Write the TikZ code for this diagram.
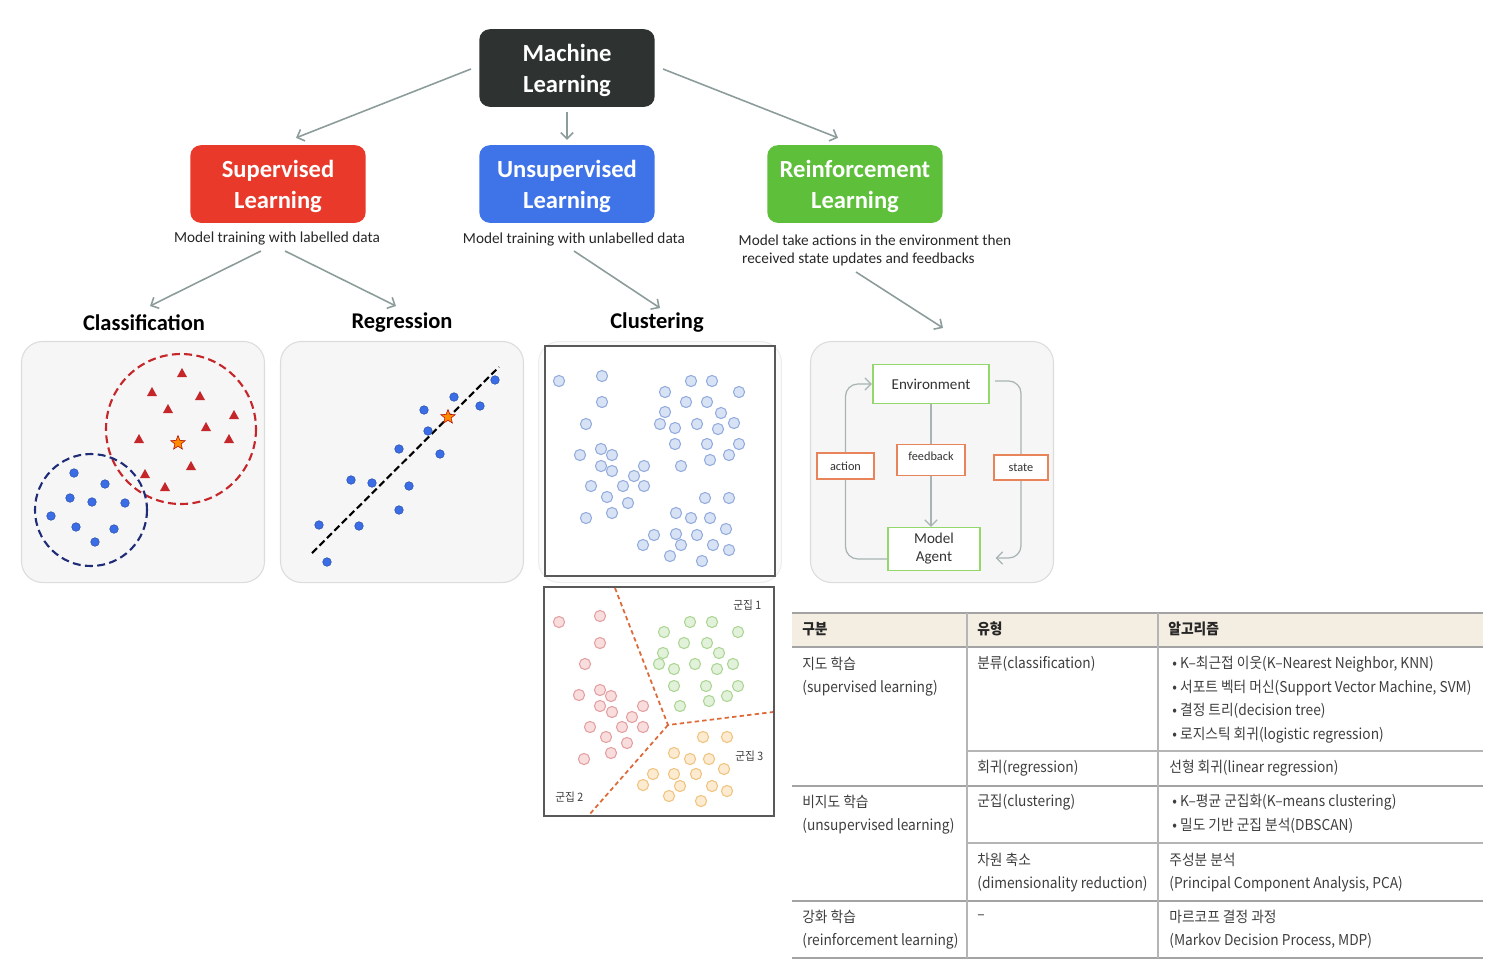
\documentclass[tikz,border=0pt]{standalone}
\usepackage{fontspec}
\setmainfont{Carlito}
\newfontfamily\krfont[FakeStretch=0.92]{Noto Sans CJK KR}
\usetikzlibrary{arrows.meta,shapes.geometric,positioning}

\definecolor{mlgray}{HTML}{2E3332}
\definecolor{supred}{HTML}{E8392A}
\definecolor{unsblue}{HTML}{3F74E9}
\definecolor{rlgreen}{HTML}{5DBF3A}
\definecolor{arrgray}{HTML}{8C9C9B}
\definecolor{panelfill}{HTML}{F6F6F6}
\definecolor{paneledge}{HTML}{DCDCDC}
\definecolor{dotblue}{HTML}{3A6DE6}
\definecolor{trired}{HTML}{C4262A}
\definecolor{ringblue}{HTML}{1F2C78}
\definecolor{clfill}{HTML}{D7E3F5}
\definecolor{cledge}{HTML}{93ABDD}
\definecolor{pkfill}{HTML}{F9DCDC}
\definecolor{pkedge}{HTML}{E3A0A2}
\definecolor{grfill}{HTML}{E2F1DA}
\definecolor{gredge}{HTML}{ABD592}
\definecolor{orfill}{HTML}{FCEBD1}
\definecolor{oredge}{HTML}{F0C37E}
\definecolor{cutline}{HTML}{DE6A3A}
\definecolor{envgreen}{HTML}{94D86C}
\definecolor{boxorange}{HTML}{E8835A}
\definecolor{rlgray}{HTML}{A8B3B3}
\definecolor{headfill}{HTML}{F4EDE2}
\definecolor{tabline}{HTML}{A3A3A3}
\definecolor{tabtext}{HTML}{3E3E3E}

\tikzset{
  >={Straight Barb[length=3.5pt,width=7pt]},
  kindbox/.style={rounded corners=6pt, text=white, align=center,
    minimum width=99.8pt, minimum height=44.2pt, text depth=0pt,
    font=\bfseries\fontsize{14}{17.8}\selectfont},
  capt/.style={font=\fontsize{8.7}{10.2}\selectfont, text=black!85},
  headtxt/.style={font=\bfseries\fontsize{12.8}{14}\selectfont},
  link/.style={arrgray, line width=0.9pt, ->},
  panel/.style={draw=paneledge, fill=panelfill, rounded corners=12pt,
    minimum width=138.3pt, minimum height=137.2pt, line width=0.6pt},
  rlline/.style={rlgray, line width=0.7pt},
  rlbox/.style={draw=envgreen, fill=white, line width=0.9pt, align=center,
    font=\fontsize{8.6}{10.2}\selectfont, text=black!80},
  tagbox/.style={draw=boxorange, fill=white, line width=0.9pt,
    font=\fontsize{7}{8}\selectfont, text=black!80},
  starmark/.style={star, star points=5, star point ratio=2.3, fill=orange!90!yellow,
    draw=red!70!black, line width=0.3pt, minimum size=8.5pt, inner sep=0pt},
  cell/.style={anchor=west, inner sep=0pt, text=tabtext,
    font=\krfont\fontsize{8.5}{10}\selectfont},
  cellhead/.style={cell, font=\krfont\bfseries\fontsize{8.5}{10}\selectfont, text=black!85},
}

\begin{document}
\begin{tikzpicture}[x=0.02cm, y=-0.02cm]
\useasboundingbox (0,0) rectangle (1492,968);

% top of the tree
\node[kindbox, fill=mlgray] (ml) at (567,68) {Machine\\Learning};
\node[kindbox, fill=supred] (sup) at (278,184) {Supervised\\Learning};
\node[kindbox, fill=unsblue] (uns) at (567,184) {Unsupervised\\Learning};
\node[kindbox, fill=rlgreen] (rl) at (855,184) {Reinforcement\\Learning};

\node[capt] (capsup) at (277,238) {Model training with labelled data};
\node[capt] (capuns) at (574,239) {Model training with unlabelled data};
\node[capt, align=left] (caprl) at (875,250) {Model take actions in the environment then\\\hspace{2pt}received state updates and feedbacks};

\node[headtxt] (cls) at (144,323) {Classification};
\node[headtxt] (reg) at (402,323) {Regression};
\node[headtxt] (clu) at (657,323) {Clustering};

% panels
\node[panel] (clspanel) at (143,462) {};
\node[panel] (regpanel) at (402,462) {};
\node[panel, fill=white!60!panelfill, draw=paneledge!50] (clupanel) at (660,462) {};
\node[panel] (rlpanel) at (932,462) {};

% arrows
\draw[link] ([shift={(-8,1)}]ml.west) -- ([shift={(18,-7)}]sup.north);
\draw[link] ([shift={(0,5)}]ml.south) -- ([shift={(0,-5)}]uns.north);
\draw[link] ([shift={(8,1)}]ml.east) -- ([shift={(-17,-7)}]rl.north);
\draw[link] ([shift={(-16,13)}]capsup.center) -- ([shift={(6,-17)}]cls.center);
\draw[link] ([shift={(8,13)}]capsup.center) -- ([shift={(-6,-17)}]reg.center);
\draw[link] ([shift={(0,12)}]capuns.center) -- ([shift={(3,-15)}]clu.center);
\draw[link] ([shift={(-19,22)}]caprl.center) -- ([shift={(11,-13)}]rlpanel.north);

% classification
\draw[trired, dashed, dash pattern=on 4.5pt off 2.5pt, line width=1.2pt] (181,429) circle [radius=75];
\draw[ringblue, dashed, dash pattern=on 4.5pt off 2.5pt, line width=1.2pt] (91,510) circle [radius=56];
\foreach \x/\y in {182/373,152/392,200/396,168/409,234/415,206/427,139/439,229/439,191/466,145/474,165/487}
  \fill[trired] (\x,\y-5) -- (\x+5,\y+4) -- (\x-5,\y+4) -- cycle;
\foreach \x/\y in {74/473,105/484,70/498,92/502,125/503,51/516,76/527,114/529,95/542}
  \filldraw[fill=dotblue, draw=dotblue!75!black, line width=0.3pt] (\x,\y) circle [radius=4.3];
\node[starmark] (clsstar) at (178,443) {};

% regression
\draw[black, dashed, dash pattern=on 4pt off 2pt, line width=1.2pt] (312,553) -- (499,367);
\foreach \x/\y in {495/380,454/397,480/406,424/410,428/431,399/449,440/454,351/480,372/483,409/486,399/510,319/525,359/526,327/562}
  \filldraw[fill=dotblue, draw=dotblue!75!black, line width=0.3pt] (\x,\y) circle [radius=4.3];
\node[starmark] (regstar) at (448,417) {};

% clustering, raw data
\filldraw[fill=white, draw=black!65, line width=0.8pt] (545,346) rectangle (775,576);
\foreach \x/\y in {559/381,602/376,602/402,586/424,580/455,601/449,612/455,601/466,612/471,644/466,634/476,591/486,623/486,644/486,607/497,628/503,586/518,612/513,
  665/392,691/381,712/381,739/392,686/402,707/402,665/412,721/413,660/424,675/428,697/424,718/429,734/423,675/444,707/444,739/444,729/455,681/466,710/460,
  705/498,729/498,676/513,691/518,710/518,726/529,654/535,676/534,697/535,643/545,681/545,713/545,729/550,670/556,702/561}
  \filldraw[fill=clfill, draw=cledge, line width=0.6pt] (\x,\y) circle [radius=5.6];

% clustering, result
\filldraw[fill=white, draw=black!65, line width=0.8pt] (544,587) rectangle (774,816);
\foreach \x/\y in {559/622,600/616,600/643,585/664,579/695,600/690,611/696,600/706,612/712,643/706,632/717,590/727,622/727,643/727,606/737,627/743,584/759,611/753}
  \filldraw[fill=pkfill, draw=pkedge, line width=0.6pt] (\x,\y) circle [radius=5.6];
\foreach \x/\y in {664/632,690/622,712/622,738/632,684/643,707/643,663/653,719/653,659/664,674/669,695/664,717/669,733/664,674/686,706/686,738/686,727/696,680/706,709/701}
  \filldraw[fill=grfill, draw=gredge, line width=0.6pt] (\x,\y) circle [radius=5.6];
\foreach \x/\y in {703/737,727/737,674/753,690/759,709/759,724/769,653/774,674/774,696/774,643/785,680/786,712/786,727/791,669/796,701/801}
  \filldraw[fill=orfill, draw=oredge, line width=0.6pt] (\x,\y) circle [radius=5.6];
\draw[cutline, dashed, dash pattern=on 2.5pt off 1.8pt, line width=1pt] (615,588) -- (668,725) -- (773,712);
\draw[cutline, dashed, dash pattern=on 2.5pt off 1.8pt, line width=1pt] (668,725) -- (589,815);
\node[cell, font=\krfont\fontsize{6.6}{8}\selectfont] (grp1) at (733,605) {군집 1};
\node[cell, font=\krfont\fontsize{6.6}{8}\selectfont] (grp3) at (735,756) {군집 3};
\node[cell, font=\krfont\fontsize{6.6}{8}\selectfont] (grp2) at (555,797) {군집 2};

% reinforcement loop
\node[rlbox, minimum width=66.3pt, minimum height=22.1pt] (env) at (931,384) {Environment};
\node[rlbox, minimum width=52.2pt, minimum height=24.4pt] (agent) at (934,549) {Model\\Agent};
\node[tagbox, minimum width=32.3pt, minimum height=14.7pt] (action) at (845.5,466) {action};
\node[tagbox, minimum width=38.5pt, minimum height=17.8pt, text depth=4pt] (feedback) at (931,460) {feedback};
\node[tagbox, minimum width=30.8pt, minimum height=14.2pt] (state) at (1021,467.5) {state};
\draw[rlline] (env.south) -- (feedback.north);
\draw[rlline, ->] (feedback.south) -- (feedback.south |- agent.north);
\draw[rlline, rounded corners=7pt] ([shift={(0,10)}]agent.west) -| (action.south);
\draw[rlline, ->, rounded corners=7pt] (action.north) |- (env.west);
\draw[rlline, rounded corners=7pt] ([shift={(5,-3)}]env.east) -| (state.north);
\draw[rlline, ->, rounded corners=7pt] (state.south) |- ([shift={(15,9)}]agent.east);

% table
\fill[headfill] (792,613) rectangle (1483,647);
\draw[tabline, line width=1.2pt] (792,613) -- (1483,613);
\draw[tabline, line width=0.7pt] (792,647) -- (1483,647);
\draw[tabline!80, line width=0.6pt] (967,751) -- (1483,751);
\draw[tabline, line width=0.7pt] (792,786) -- (1483,786);
\draw[tabline!80, line width=0.6pt] (967,843) -- (1483,843);
\draw[tabline, line width=0.7pt] (792,901) -- (1483,901);
\draw[tabline, line width=1.2pt] (792,958) -- (1483,958);
\draw[tabline!80, line width=0.6pt] (967,613) -- (967,958);
\draw[tabline!80, line width=0.6pt] (1158,613) -- (1158,958);

\node[cellhead] (h1) at (802,629) {구분};
\node[cellhead] (h2) at (977,629) {유형};
\node[cellhead] (h3) at (1168,629) {알고리즘};

\node[cell] (r1a) at (802,664) {지도 학습};
\node[cell] (r1b) at (802,688) {(supervised learning)};
\node[cell] (r1c) at (977,664) {분류(classification)};
\node[cell] (r1d) at (1172,664) {• K–최근접 이웃(K–Nearest Neighbor, KNN)};
\node[cell] (r1e) at (1172,688) {• 서포트 벡터 머신(Support Vector Machine, SVM)};
\node[cell] (r1f) at (1172,711) {• 결정 트리(decision tree)};
\node[cell] (r1g) at (1172,735) {• 로지스틱 회귀(logistic regression)};
\node[cell] (r2a) at (977,768) {회귀(regression)};
\node[cell] (r2b) at (1169,768) {선형 회귀(linear regression)};

\node[cell] (r3a) at (802,802) {비지도 학습};
\node[cell] (r3b) at (802,826) {(unsupervised learning)};
\node[cell] (r3c) at (977,802) {군집(clustering)};
\node[cell] (r3d) at (1172,802) {• K–평균 군집화(K–means clustering)};
\node[cell] (r3e) at (1172,826) {• 밀도 기반 군집 분석(DBSCAN)};
\node[cell] (r4a) at (977,860) {차원 축소};
\node[cell] (r4b) at (977,884) {(dimensionality reduction)};
\node[cell] (r4c) at (1169,860) {주성분 분석};
\node[cell] (r4d) at (1169,884) {(Principal Component Analysis, PCA)};

\node[cell] (r5a) at (802,917) {강화 학습};
\node[cell] (r5b) at (802,941) {(reinforcement learning)};
\node[cell] (r5c) at (977,917) {–};
\node[cell] (r5d) at (1169,917) {마르코프 결정 과정};
\node[cell] (r5e) at (1169,941) {(Markov Decision Process, MDP)};
\end{tikzpicture}
\end{document}
